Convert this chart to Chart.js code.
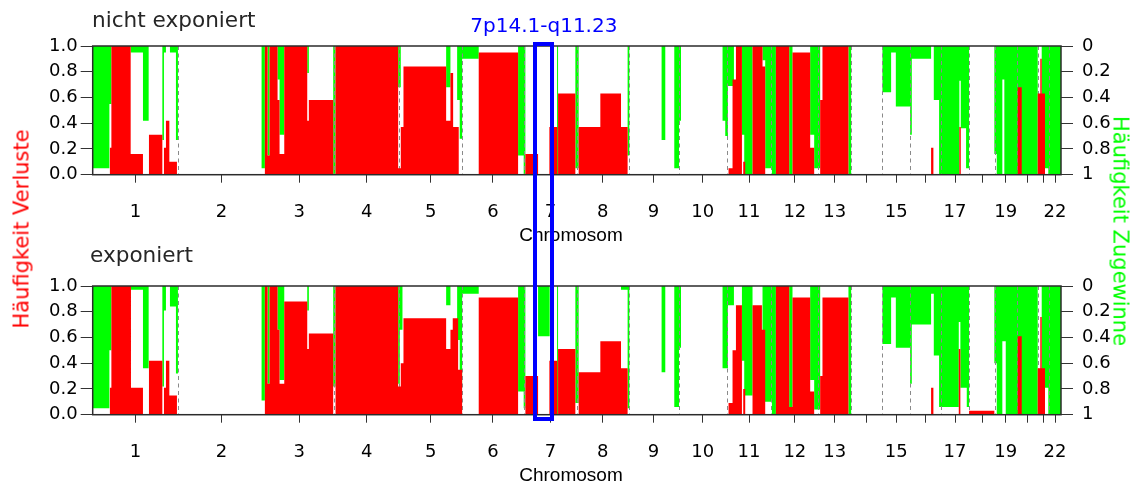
<!DOCTYPE html>
<html>
<head>
<meta charset="utf-8">
<script src="https://cdn.jsdelivr.net/npm/chart.js@4/dist/chart.umd.min.js"></script>
<style>
  html, body { margin:0; padding:0; background:#fff; }
  #wrap { position:relative; width:1141px; height:483px; overflow:hidden; }
  canvas { position:absolute; left:0; }
  .t { position:absolute; white-space:nowrap; line-height:1; }
  .title { font-family:"DejaVu Sans"; font-size:21.6px; color:#262626; }
  .xt { font-family:"Liberation Sans"; font-size:19px; color:#000; transform:translateX(-50%); }
  .rot { font-family:"DejaVu Sans"; font-size:21px; }
  #box { position:absolute; border:4px solid #0000ff; box-sizing:border-box; }
</style>
</head>
<body>
<div id="wrap">
  <canvas id="cTop" width="1141" height="240" style="top:0;width:1141px;height:240px"></canvas>
  <canvas id="cBot" width="1141" height="243" style="top:240px;width:1141px;height:243px"></canvas>
  <div class="t title" style="left:92px;top:8.5px">nicht exponiert</div>
  <div class="t title" style="left:90px;top:243.5px">exponiert</div>
  <div class="t xt" style="left:571px;top:225px">Chromosom</div>
  <div class="t xt" style="left:571px;top:465px">Chromosom</div>
  <div class="t" id="regionLabel" style="font-family:'DejaVu Sans';font-size:20px;color:#0000ff;top:15px;left:545.5px;transform:translateX(-50%)">7p14.1-q11.23</div>
  <div class="t rot" style="left:22px;top:229px;color:#ff0000;transform:translate(-50%,-50%) rotate(-90deg)">Häufigkeit Verluste</div>
  <div class="t rot" style="left:1120px;top:231px;color:#00ff00;transform:translate(-50%,-50%) rotate(90deg)">Häufigkeit Zugewinne</div>
  <div id="box"></div>
</div>
<script>
// ---------- data (genome position in relative units 0..969) ----------
const chromBounds = [0, 85.7, 172, 241.3, 307, 369.7, 431.3, 484.7, 536.3, 586.3, 634.7, 679, 726.3, 759, 790.3, 818, 849, 877, 903, 924.5, 946, 957, 969];
const xTickLabels = ["1","2","3","4","5","6","7","8","9","10","11","12","13","","15","","17","","19","","","22"];
const leftTicks = [0, 0.2, 0.4, 0.6, 0.8, 1.0];
const rightTickLabels = ["0","0.2","0.4","0.6","0.8","1"];
const regionName = "7p14.1-q11.23";
const regionSpan = [441, 462];

// [start, end, frequency]
const lossTop = [
  [17.0,18.7,0.21],[18.7,38.0,1.0],[38.0,50.3,0.16],[56.3,69.7,0.31],[71.3,73.3,0.21],[73.3,76.7,0.42],[76.7,84.3,0.10],
  [172.3,175.0,1.0],[175.0,177.0,0.15],[177.0,185.0,1.0],[185.0,187.0,0.58],[187.0,191.7,0.16],[191.7,214.7,1.0],[214.7,216.3,0.42],[216.3,240.7,0.58],
  [243.0,305.7,1.0],
  [305.7,308.3,0.05],[308.3,311.0,0.37],[311.0,353.7,0.84],[353.7,358.0,0.42],[358.0,360.7,0.79],[360.7,366.3,0.37],
  [386.3,425.7,0.95],
  [433.0,445.7,0.16],[457.0,465.0,0.37],[465.7,483.0,0.63],
  [486.3,508.0,0.37],[508.0,528.7,0.63],[528.7,535.3,0.37],
  [636.3,640.3,0.05],[640.3,643.7,0.74],[643.7,649.7,1.0],[651.0,653.0,0.10],[660.3,670.3,1.0],[670.3,673.0,0.84],
  [683.7,697.0,1.0],[700.3,718.0,0.95],[718.0,722.0,0.21],
  [728.0,730.3,0.58],[730.3,756.3,1.0],
  [839.0,841.3,0.21],[867.3,868.7,0.37],[925.7,929.7,0.68],
  [945.7,948.3,0.63],[948.3,949.7,0.90],[949.7,953.0,0.63]
];
const gainTop = [
  [0,16.7,0.95],[16.7,18.7,0.45],[38.0,50.3,0.05],[50.3,56.0,0.58],[69.7,71.3,0.73],[71.3,73.3,0.05],[77.3,83.3,0.05],[83.3,85.3,0.73],
  [169.0,172.3,0.95],[175.0,177.0,0.85],[185.0,187.0,0.26],[187.0,191.7,0.69],[214.7,216.3,0.21],[240.7,243.0,1.0],
  [305.7,308.3,0.32],[353.7,358.0,0.32],[364.7,367.3,0.42],[367.3,369.7,0.72],
  [369.7,386.3,0.10],[425.7,431.3,0.85],
  [431.3,433.0,1.0],[464.7,465.7,1.0],[483.0,486.3,0.95],
  [535.3,537.0,0.85],[569.3,573.0,0.73],[582.0,586.7,0.95],[586.7,588.7,0.58],
  [630.3,633.0,0.58],[633.0,635.7,0.70],[635.7,641.7,0.31],[649.7,652.0,0.69],[652.0,660.3,1.0],[670.3,673.0,0.11],[673.0,679.7,0.95],[679.7,683.7,1.0],
  [697.0,700.3,1.0],[718.0,722.0,0.69],[722.0,728.0,0.95],[756.3,759.0,1.0],
  [790.3,799.0,0.36],[799.0,803.7,0.05],[803.7,818.0,0.47],[818.0,819.7,0.69],[819.7,839.0,0.10],[841.7,847.0,0.42],
  [847.0,867.3,1.0],[867.3,868.7,0.27],[868.7,874.0,0.64],[874.0,877.0,0.95],
  [902.3,904.7,0.84],[904.7,910.3,1.0],[910.3,912.3,0.26],[912.3,945.7,1.0],[949.7,956.3,0.95],[956.3,969.0,1.0]
];
const lossBottom = [
  [17.0,18.7,0.21],[18.7,38.3,1.0],[38.3,50.3,0.21],[56.3,69.7,0.42],[71.3,73.3,0.21],[73.3,76.7,0.42],[76.7,84.3,0.15],
  [172.3,175.0,1.0],[175.0,177.0,0.24],[177.0,185.0,1.0],[185.0,187.0,0.66],[187.0,191.7,0.24],[191.7,214.7,0.88],[214.7,216.3,0.51],[216.3,240.7,0.63],
  [243.0,305.7,1.0],
  [305.7,308.3,0.22],[308.3,311.0,0.40],[311.0,353.7,0.75],[353.7,358.0,0.51],[358.0,360.3,0.66],[360.3,365.7,0.75],[365.7,369.7,0.35],
  [386.3,425.7,0.91],
  [433.0,445.7,0.30],[457.0,465.0,0.42],[465.7,483.0,0.51],
  [486.3,508.0,0.33],[508.0,528.7,0.57],[528.7,535.3,0.36],
  [636.3,640.3,0.09],[640.3,643.7,0.50],[643.7,649.7,0.85],[651.0,653.0,0.20],[660.3,669.7,0.85],[669.7,673.0,0.66],
  [683.7,697.0,1.0],[697.0,700.3,0.06],[700.3,718.0,0.91],[718.0,722.0,0.18],
  [728.0,730.3,0.30],[730.3,756.3,0.91],
  [839.0,841.3,0.21],[866.7,868.3,0.51],[877.0,902.3,0.03],[925.7,929.7,0.61],
  [945.7,948.3,0.36],[948.3,949.7,0.76],[949.7,953.0,0.36]
];
const gainBottom = [
  [0,16.7,0.95],[16.7,18.7,0.50],[38.3,50.3,0.03],[50.3,56.0,0.64],[69.7,71.3,0.78],[71.3,73.3,0.19],[77.3,83.3,0.16],[83.3,85.3,0.68],
  [169.0,172.3,0.89],[175.0,177.0,0.76],[185.0,187.0,0.34],[187.0,191.7,0.73],[214.7,216.3,0.19],[240.7,243.0,0.78],
  [305.7,307.3,0.76],[307.3,310.0,0.34],[353.7,358.0,0.15],[364.7,367.3,0.42],[367.3,369.7,0.76],
  [369.7,386.3,0.06],[425.7,431.3,0.82],
  [431.3,433.0,0.95],[445.7,457.3,0.39],[464.7,465.7,1.0],[483.0,486.3,0.91],
  [528.7,535.3,0.03],[535.3,537.0,0.95],[569.3,573.0,0.67],[582.0,586.7,0.94],[586.7,588.7,0.48],
  [630.3,635.7,0.64],[635.7,641.7,0.15],[649.7,652.0,0.58],[652.0,660.3,0.85],[670.3,679.7,0.90],[679.7,683.7,1.0],
  [697.0,700.3,0.94],[718.0,722.0,0.73],[722.0,728.0,0.96],[756.3,759.0,1.0],
  [790.3,799.0,0.45],[799.0,803.7,0.09],[803.7,818.0,0.48],[818.0,819.7,0.76],[819.7,839.0,0.30],[839.0,841.7,0.06],[841.7,847.0,0.54],
  [847.0,866.7,0.94],[866.7,868.3,0.28],[868.3,874.7,0.79],[874.7,877.0,0.94],
  [902.3,904.7,0.60],[904.7,910.3,1.0],[910.3,913.7,0.43],[913.7,945.7,1.0],[949.7,956.3,0.79],[956.3,969.0,1.0]
];

// ---------- helpers ----------
const RED = '#ff0000', GREEN = '#00ff00';
const mids = chromBounds.slice(0, -1).map((b, i) => (b + chromBounds[i + 1]) / 2);

function stepPoints(segs) {
  const pts = [];
  segs.slice().sort((a, b) => a[0] - b[0]).forEach(([s, e, v]) => {
    pts.push({x: s, y: 0}, {x: s, y: v}, {x: e, y: v}, {x: e, y: 0});
  });
  return pts;
}

const boundaryPlugin = {
  id: 'bounds',
  afterDatasetDraw(chart, args) {
    if (args.index !== 1) return;
    const {ctx, chartArea: a, scales: {x}} = chart;
    ctx.save();
    ctx.beginPath();
    ctx.rect(a.left, a.top, a.right - a.left, a.bottom - a.top);
    ctx.clip();
    ctx.beginPath();
    ctx.setLineDash([4, 3.5]);
    ctx.strokeStyle = '#8a8a8a';
    ctx.lineWidth = 1;
    chromBounds.slice(1, -1).forEach(b => {
      const px = Math.round(x.getPixelForValue(b)) + 0.5;
      ctx.moveTo(px, a.top);
      ctx.lineTo(px, a.bottom);
    });
    ctx.stroke();
    ctx.restore();
  },
  afterDraw(chart) {
    const {ctx, chartArea: a} = chart;
    ctx.save();
    ctx.strokeStyle = '#2b2b2b';
    ctx.lineWidth = 1.5;
    ctx.strokeRect(a.left, a.top, a.right - a.left, a.bottom - a.top);
    ctx.restore();
  }
};

function makeChart(id, loss, gain, canvasH) {
  const tickFont = {family: 'DejaVu Sans', size: 18, lineHeight: 1};
  return new Chart(document.getElementById(id), {
    type: 'line',
    data: {
      datasets: [
        {data: stepPoints(loss), yAxisID: 'y', backgroundColor: RED, borderColor: 'rgba(0,0,0,0)', borderWidth: 0,
         fill: {value: 0}, pointRadius: 0, pointHoverRadius: 0, tension: 0},
        {data: stepPoints(gain), yAxisID: 'y2', backgroundColor: GREEN, borderColor: 'rgba(0,0,0,0)', borderWidth: 0,
         fill: {value: 0}, pointRadius: 0, pointHoverRadius: 0, tension: 0}
      ]
    },
    options: {
      responsive: false,
      animation: false,
      events: [],
      layout: {padding: {left: 0, right: 0, top: 46, bottom: 0}},
      plugins: {legend: {display: false}, tooltip: {enabled: false}},
      scales: {
        x: {
          type: 'linear', position: 'bottom', min: chromBounds[0], max: chromBounds[chromBounds.length - 1],
          afterFit(s) { s.height = canvasH - 174.7; },
          afterBuildTicks(s) { s.ticks = mids.map(v => ({value: v})); },
          ticks: {autoSkip: false, maxRotation: 0, padding: 21, font: tickFont, color: '#000',
                  callback: (v, i) => xTickLabels[i]},
          grid: {drawOnChartArea: false, drawTicks: true, tickLength: 8, color: '#333', lineWidth: 1},
          border: {display: false}
        },
        y: {
          type: 'linear', position: 'left', min: 0, max: 1,
          afterFit(s) { s.width = 92.7; },
          afterBuildTicks(s) { s.ticks = leftTicks.map(v => ({value: v})); },
          ticks: {autoSkip: false, padding: 3, font: tickFont, color: '#000', callback: v => v.toFixed(1)},
          grid: {drawOnChartArea: false, drawTicks: true, tickLength: 12, color: '#333', lineWidth: 1},
          border: {display: false}
        },
        y2: {
          type: 'linear', position: 'right', min: 0, max: 1, reverse: true,
          afterFit(s) { s.width = 1141 - 1061; },
          afterBuildTicks(s) { s.ticks = leftTicks.map(v => ({value: v})); },
          ticks: {autoSkip: false, padding: 9, font: tickFont, color: '#000', callback: (v, i) => rightTickLabels[i]},
          grid: {drawOnChartArea: false, drawTicks: true, tickLength: 12, color: '#333', lineWidth: 1},
          border: {display: false}
        }
      }
    },
    plugins: [boundaryPlugin]
  });
}

const chartTop = makeChart('cTop', lossTop, gainTop, 240);
const chartBot = makeChart('cBot', lossBottom, gainBottom, 243);

// region highlight box across both panels
(function () {
  const x = chartTop.scales.x;
  const l = x.getPixelForValue(regionSpan[0]);
  const r = x.getPixelForValue(regionSpan[1]);
  const top = chartTop.chartArea.top - 4.3;
  const bottom = 240 + chartBot.chartArea.bottom + 6.3;
  const box = document.getElementById('box');
  box.style.left = l + 'px';
  box.style.top = top + 'px';
  box.style.width = (r - l) + 'px';
  box.style.height = (bottom - top) + 'px';
  const lab = document.getElementById('regionLabel');
  lab.textContent = regionName;
  lab.style.left = ((l + r) / 2) + 'px';
})();
</script>
</body>
</html>
